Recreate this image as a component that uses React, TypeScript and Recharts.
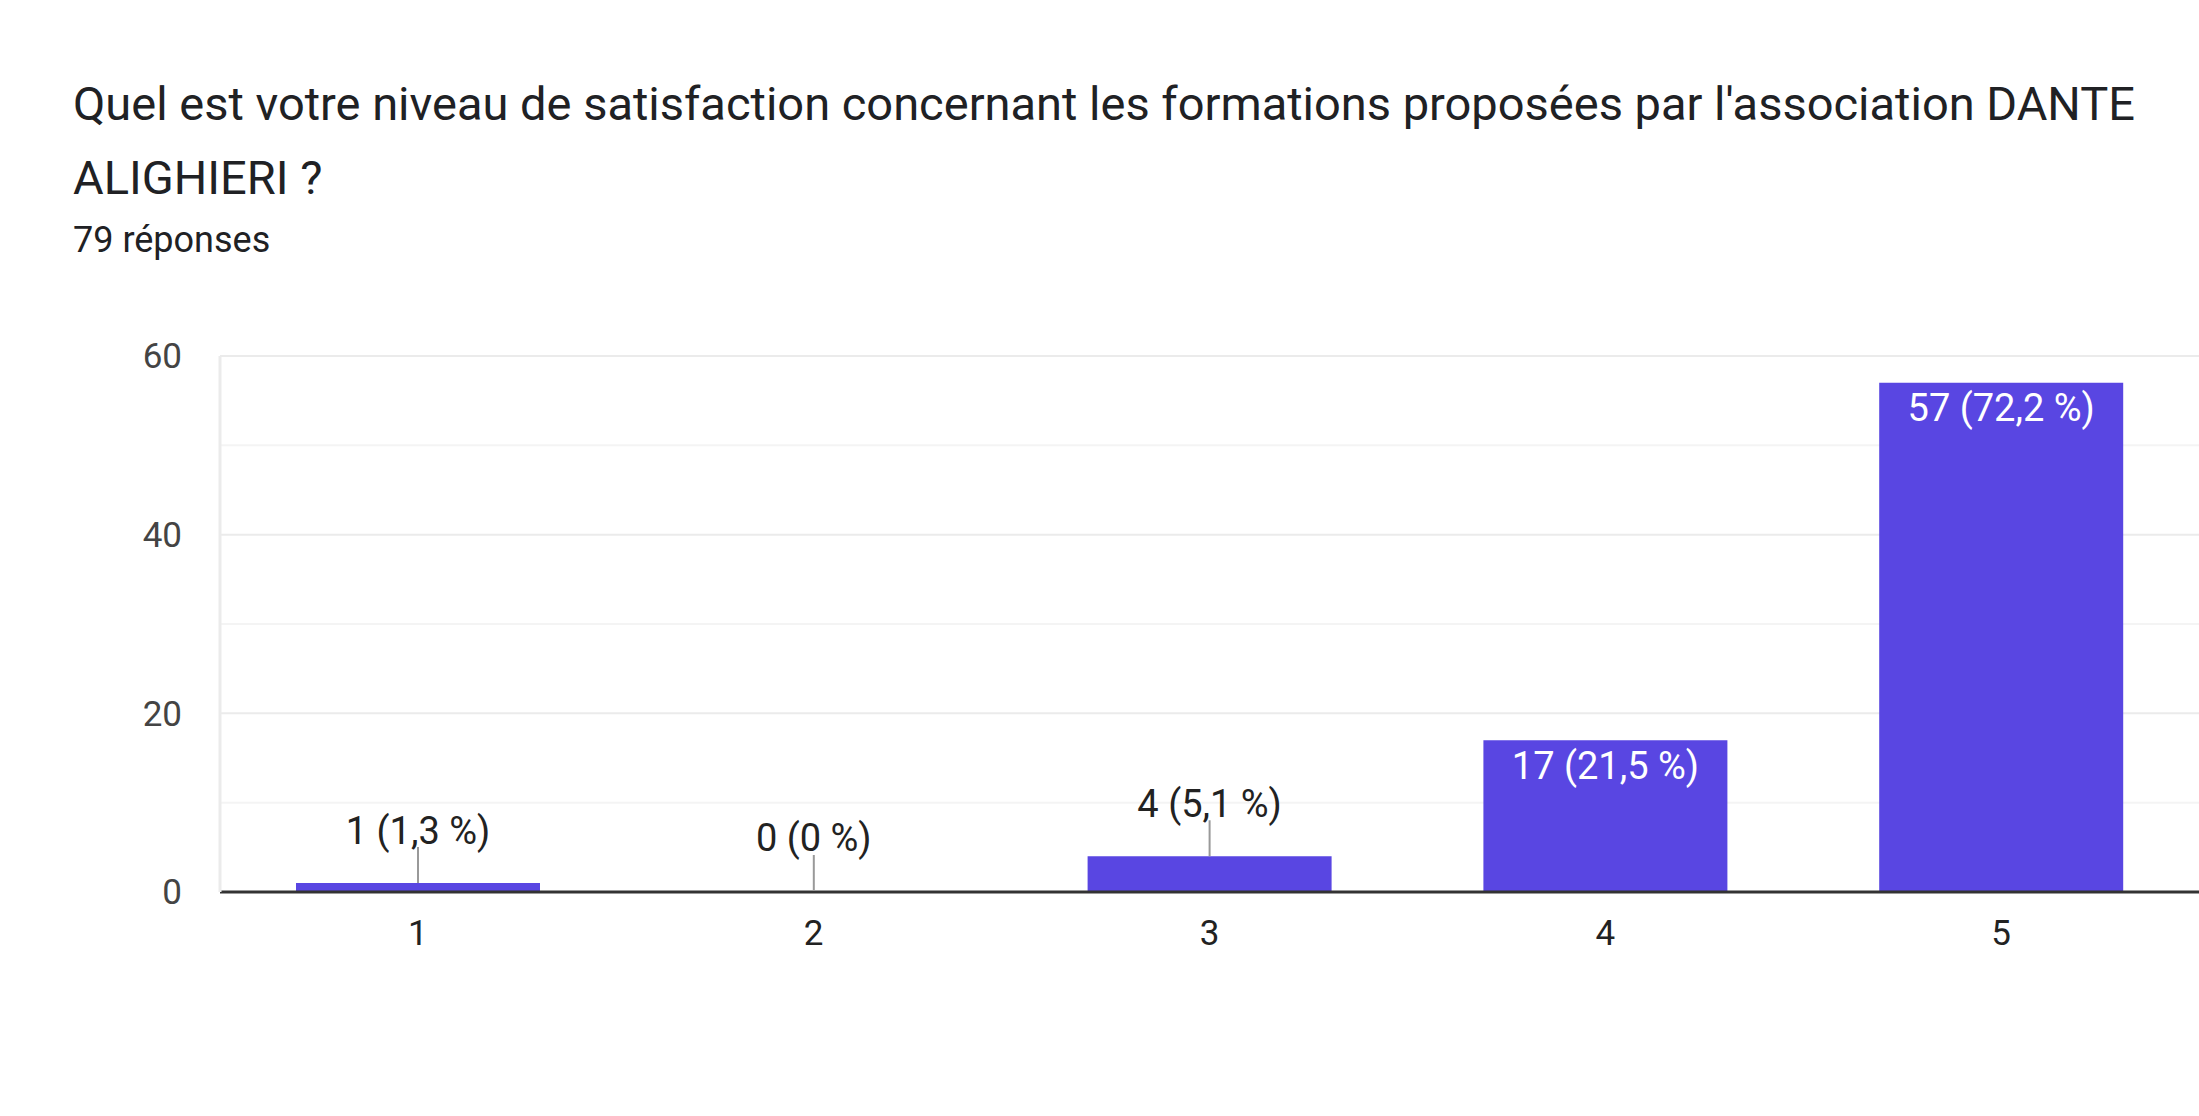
import * as React from 'react';
import {
  BarChart,
  Bar,
  XAxis,
  YAxis,
  CartesianGrid,
  LabelList,
} from 'recharts';

const TITLE_LINE_1 =
  "Quel est votre niveau de satisfaction concernant les formations proposées par l'association DANTE";
const TITLE_LINE_2 = 'ALIGHIERI ?';
const SUBTITLE = '79 réponses';

const categories = ['1', '2', '3', '4', '5'];
const counts = [1, 0, 4, 17, 57];
const yTicks = [0, 20, 40, 60];
const minorLines = [10, 30, 50];

const TOTAL = counts.reduce((a, b) => a + b, 0);
const BAR_COLOR = '#5946e2';
const FONT = 'Roboto, Arial, sans-serif';

const data = categories.map((c, i) => ({ name: c, value: counts[i] }));

function pctLabel(v: number) {
  const p = Math.round((v / TOTAL) * 1000) / 10;
  return `${v} (${String(p).replace('.', ',')} %)`;
}

// labels sit above small bars with a leader line, inside tall ones in white
function BarLabel(props: any) {
  const { x, y, width, value } = props;
  const v = Number(value);
  const cx = x + width / 2;
  const text = pctLabel(v);
  if (v >= 10) {
    return (
      <text x={cx} y={y + 25} dy="0.355em" textAnchor="middle" fill="#ffffff" fontSize={38} fontFamily={FONT}>
        {text}
      </text>
    );
  }
  return (
    <g>
      <line x1={cx} y1={y} x2={cx} y2={y - 36} stroke="#999" strokeWidth={2} />
      <text x={cx} y={y - 53} dy="0.355em" textAnchor="middle" fill="#222" fontSize={38} fontFamily={FONT}>
        {text}
      </text>
    </g>
  );
}

export default function App() {
  return (
    <div style={{ position: 'absolute', left: 0, top: 0, width: 2199, height: 1116, background: '#fff', fontFamily: FONT }}>
      <div style={{ position: 'absolute', left: 73, top: 67, fontSize: 47, lineHeight: '74px', color: '#202124', whiteSpace: 'nowrap' }}>
        {TITLE_LINE_1}
        <br />
        {TITLE_LINE_2}
      </div>
      <div style={{ position: 'absolute', left: 73, top: 220, fontSize: 36, lineHeight: '40px', color: '#202124' }}>
        {SUBTITLE}
      </div>
      <div style={{ position: 'absolute', left: 0, top: 0 }}>
        <BarChart width={2199} height={1116} data={data} margin={{ top: 356, right: 0, left: 0, bottom: 194 }}>
          <CartesianGrid vertical={false} horizontalValues={minorLines} stroke="#f4f4f4" strokeWidth={2} />
          <CartesianGrid vertical={false} horizontalValues={yTicks} stroke="#ebebeb" strokeWidth={2} />
          <XAxis
            dataKey="name"
            axisLine={{ stroke: '#333', strokeWidth: 3 }}
            tickLine={false}
            tickSize={0}
            tickMargin={28}
            tick={{ fontSize: 35, fill: '#222', fontFamily: FONT }}
          />
          <YAxis
            width={220}
            domain={[0, 60]}
            ticks={yTicks}
            axisLine={{ stroke: '#ebebeb', strokeWidth: 3 }}
            tickLine={false}
            tickSize={0}
            tickMargin={38}
            tick={{ fontSize: 35, fill: '#444', fontFamily: FONT }}
          />
          <Bar dataKey="value" fill={BAR_COLOR} barSize={244} minPointSize={1} isAnimationActive={false}>
            <LabelList dataKey="value" content={BarLabel} />
          </Bar>
        </BarChart>
      </div>
    </div>
  );
}
